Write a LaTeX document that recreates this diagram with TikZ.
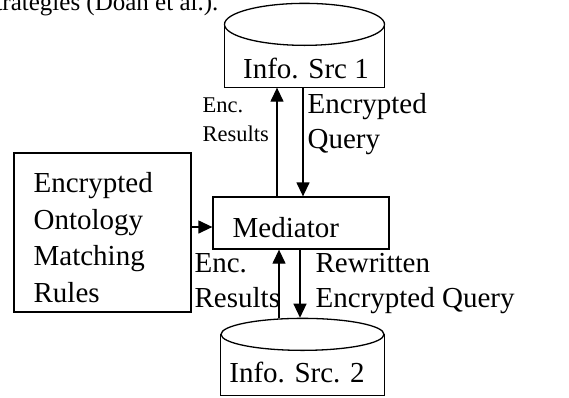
\documentclass[tikz,border=0pt]{standalone}
\usepackage{fontspec}
\setmainfont{Liberation Serif}
\usetikzlibrary{shapes.geometric,arrows.meta}

\begin{document}
\begin{tikzpicture}
  	[x=1pt,y=-1pt,line width=1.3pt,
   	every node/.style={inner sep=0pt,font=\fontsize{29}{35}\selectfont},
   	box/.style={draw,rectangle},
   	disk/.style={draw,ellipse,fill=white},
   	small/.style={font=\fontsize{22.5}{29}\selectfont},
   	tall/.style={font=\fontsize{29}{36.5}\selectfont},
   	arr/.style={-{Triangle[length=14pt,width=13pt]}}]
  	\useasboundingbox (0,0) rectangle (569,397);
  	\clip (0,0) rectangle (569,397);
  	% caption line cut off by the page
  	\node[anchor=base east,font=\fontsize{25}{30}\selectfont] (caption) at (219,10) {strategies (Doan et al.).};
  	% info source 1
  	\node[minimum width=159pt,minimum height=62pt] (src1) at (304.5,56) {};
  	\draw (src1.north west) -- (src1.south west) -- (src1.south east) -- (src1.north east);
  	\node[disk,minimum width=160pt,minimum height=42pt] (src1top) at (src1.north) {};
  	\node[anchor=base] (src1txt) at (306,78) {Info. Src 1};
  	% mediator
  	\node[box,minimum width=176pt,minimum height=52pt] (med) at (301,223) {};
  	\node[anchor=base west] (medtxt) at (232,237) {Mediator};
  	% matching rules
  	\node[box,minimum width=177pt,minimum height=159pt] (rules) at (102.5,232.5) {};
  	\node[tall,anchor=north west,align=left] (rulestxt) at (33,172)
     	{Encrypted\\Ontology\\Matching\\Rules};
  	% info source 2
  	\node[minimum width=163pt,minimum height=60pt] (src2) at (302.5,365) {};
  	\draw (src2.north west) -- (src2.south west) -- (src2.south east) -- (src2.north east);
  	\node[disk,minimum width=163pt,minimum height=32pt] (src2top) at (src2.north) {};
  	\node[anchor=base] (src2txt) at (297,382) {Info. Src. 2};
  	% arrows
  	\coordinate (medin) at ([yshift=-4pt]med.west);
  	\draw[arr] (medin -| rules.east) -- (medin);
  	\draw[arr] ([xshift=-24pt]med.north) -- ([xshift=-24pt]med.north |- src1.south);
  	\draw[arr] ([xshift=2pt]med.north |- src1.south) -- ([xshift=2pt]med.north);
  	\draw[arr] ([xshift=-22pt]med.south |- src2top.north) -- ([xshift=-22pt]med.south);
  	\draw[arr] ([xshift=-1pt]med.south) -- ([xshift=-1pt]med.south |- src2top.north);
  	% arrow labels
  	\node[small,anchor=north west,align=left] (res1) at (202,97) {Enc.\\Results};
  	\node[anchor=north west,align=left] (qry1) at (307,93) {Encrypted\\Query};
  	\node[anchor=north west,align=left] (res2) at (194,253) {Enc.\\Results};
  	\node[anchor=north west,align=left] (qry2) at (315,253) {Rewritten\\Encrypted Query};
\end{tikzpicture}
\end{document}
